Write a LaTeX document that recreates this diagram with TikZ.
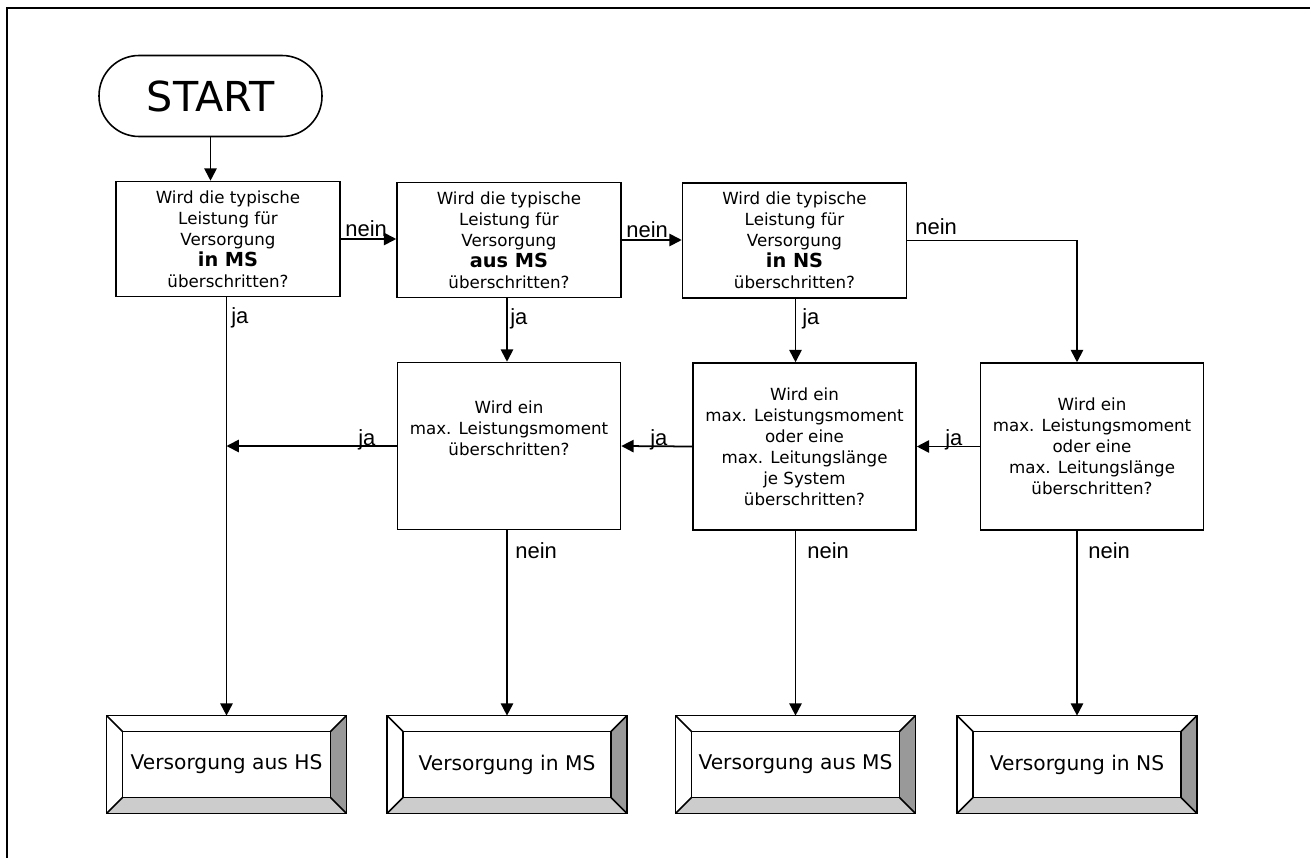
\documentclass[tikz,border=0pt]{standalone}
\usepackage{fontspec}
\setmainfont{DejaVu Sans}
\newfontfamily\labelfont{Liberation Sans}
\usetikzlibrary{arrows.meta}

% bevelled output box
\newcommand{\ausgang}[3]{%
\node[endbox] (#1) at (#2) {#3};
\fill[white] (#1.north west) -- (#1.north east) -- ([shift={(-0.32cm,-0.32cm)}]#1.north east) -- ([shift={(0.32cm,-0.32cm)}]#1.north west) -- cycle;
\fill[white] (#1.north west) -- (#1.south west) -- ([shift={(0.32cm,0.32cm)}]#1.south west) -- ([shift={(0.32cm,-0.32cm)}]#1.north west) -- cycle;
\fill[fill=black!20] (#1.south west) -- (#1.south east) -- ([shift={(-0.32cm,0.32cm)}]#1.south east) -- ([shift={(0.32cm,0.32cm)}]#1.south west) -- cycle;
\fill[fill=black!40] (#1.north east) -- (#1.south east) -- ([shift={(-0.32cm,0.32cm)}]#1.south east) -- ([shift={(-0.32cm,-0.32cm)}]#1.north east) -- cycle;
\draw[linie] (#1.north west) -- ([shift={(0.32cm,-0.32cm)}]#1.north west);
\draw[linie] (#1.north east) -- ([shift={(-0.32cm,-0.32cm)}]#1.north east);
\draw[linie] (#1.south west) -- ([shift={(0.32cm,0.32cm)}]#1.south west);
\draw[linie] (#1.south east) -- ([shift={(-0.32cm,0.32cm)}]#1.south east);
\draw[linie] ([shift={(0.32cm,-0.32cm)}]#1.north west) rectangle ([shift={(-0.32cm,0.32cm)}]#1.south east);
\draw[linie] (#1.north west) rectangle (#1.south east);
}

\begin{document}
\begin{tikzpicture}[x=0.02cm,y=-0.02cm,
  frage/.style={draw,line width=0.9pt,minimum width=4.48cm,minimum height=2.3cm,inner sep=0pt,align=center,font=\fontsize{9.5}{12}\selectfont},
  pruef/.style={frage,minimum width=4.46cm,minimum height=3.34cm},
  endbox/.style={minimum width=4.78cm,minimum height=1.94cm,inner sep=0pt,font=\fontsize{11.5}{14}\selectfont},
  pfeil/.style={line width=1pt,-{Triangle[length=7pt,width=7pt]}},
  linie/.style={line width=0.9pt},
  lbl/.style={anchor=base west,inner sep=0pt,font=\labelfont\fontsize{12.5}{15}\selectfont}]
\useasboundingbox (0,0) rectangle (1310,858);
\draw[line width=1.1pt] (1310,8) -- (7,8) -- (7,858);

\node[draw,line width=0.9pt,rounded corners=0.8cm,minimum width=4.46cm,minimum height=1.62cm,font=\fontsize{23.5}{28}\selectfont] (start) at (210.5,96) {START};

\node[frage] (b1) at (228,239) {Wird die typische\\Leistung für\\Versorgung\\{\fontsize{11}{13}\selectfont\bfseries in MS}\\überschritten?};
\node[frage] (b2) at (509,240) {Wird die typische\\Leistung für\\Versorgung\\{\fontsize{11}{13}\selectfont\bfseries aus MS}\\überschritten?};
\node[frage] (b3) at (794.5,240.5) {Wird die typische\\Leistung für\\Versorgung\\{\fontsize{11}{13}\selectfont\bfseries in NS}\\überschritten?};

\node[pruef] (b4) at (509,446) {Wird ein\\max. Leistungsmoment\\überschritten?\\[8pt]};
\node[pruef] (b5) at (804.5,446.5) {Wird ein\\max. Leistungsmoment\\oder eine\\max. Leitungslänge\\je System\\überschritten?};
\node[pruef] (b6) at (1092,446.5) {Wird ein\\max. Leistungsmoment\\oder eine\\max. Leitungslänge\\überschritten?};

\ausgang{f1}{226.5,764.5}{Versorgung aus HS}
\ausgang{f2}{507,764.5}{Versorgung in MS}
\ausgang{f3}{795.5,764.5}{Versorgung aus MS}
\ausgang{f4}{1077,764.5}{Versorgung in NS}

\draw[pfeil] (start.south) -- (start.south |- b1.north);
\draw[pfeil] (b1.east) -- (b1.east -| b2.west);
\draw[pfeil] (b2.east) -- (b2.east -| b3.west);
\draw[pfeil] (b3.east) -| (f4 |- b6.north);

\draw[pfeil] (f1 |- b1.south) -- (f1.north);
\draw[pfeil] (f2 |- b2.south) -- (f2 |- b4.north);
\draw[pfeil] (f3 |- b3.south) -- (f3 |- b5.north);

\draw[pfeil] (b6.west) -- (b5.east);
\draw[pfeil] (b5.west) -- (b4.east);
\draw[pfeil] (b4.west) -- (b4.west -| f1);

\draw[pfeil] (f2 |- b4.south) -- (f2.north);
\draw[pfeil] (f3 |- b5.south) -- (f3.north);
\draw[pfeil] (f4 |- b6.south) -- (f4.north);

\node[lbl] (n1) at (345,236) {nein};
\node[lbl] (n2) at (626,237) {nein};
\node[lbl] (n3) at (915,234) {nein};
\node[lbl] (j1) at (231,323) {ja};
\node[lbl] (j2) at (510,324) {ja};
\node[lbl] (j3) at (802,324) {ja};
\node[lbl] (j4) at (358,445) {ja};
\node[lbl] (j5) at (650,445) {ja};
\node[lbl] (j6) at (945,445) {ja};
\node[lbl] (n4) at (515,558) {nein};
\node[lbl] (n5) at (807,558) {nein};
\node[lbl] (n6) at (1088,558) {nein};
\end{tikzpicture}
\end{document}
